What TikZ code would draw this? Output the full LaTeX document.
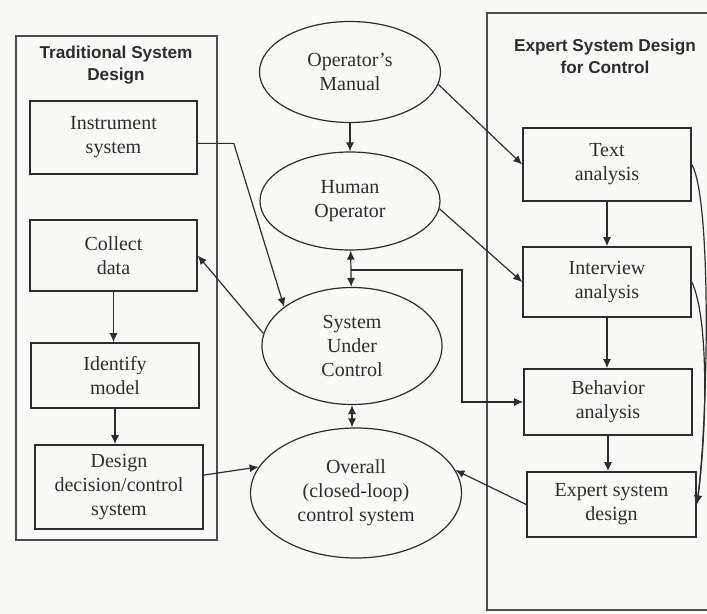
\documentclass[tikz,border=0pt]{standalone}
\usepackage{fontspec}
\setmainfont{Liberation Serif}
\newfontfamily\headfont{Liberation Sans}
\usetikzlibrary{shapes.geometric,arrows.meta}
\definecolor{paper}{RGB}{249,250,247}
\definecolor{ink}{RGB}{45,45,45}
\begin{document}
\begin{tikzpicture}[x=0.5pt,y=-0.5pt,>={Latex[length=4.5pt,width=4pt]},
      every node/.style={align=center,text=ink,font=\fontsize{10}{12}\selectfont},
      box/.style={draw=ink,line width=0.8pt,fill=paper,minimum width=84pt},
      oval/.style={draw=ink,ellipse,inner sep=1pt,line width=0.6pt,fill=paper},
      frame/.style={draw=black!70,line width=0.7pt},
      head/.style={font=\headfont\bfseries\fontsize{8.6}{11}\selectfont},
      link/.style={->,draw=ink,line width=0.6pt}]
      \clip (0,0) rectangle (707,614);
      \fill[paper] (0,0) rectangle (707,614);
      \node[frame,minimum width=100.5pt,minimum height=252pt] (left) at (116.5,288) {};
      \node[frame,minimum width=116.5pt,minimum height=298.5pt] (right) at (603.5,311.5) {};
      \node[head] (ltitle) at (116,65) {Traditional System\\Design};
      \node[head] (rtitle) at (605,56) {Expert System Design\\for Control};
      \node[box,minimum width=83.5pt,minimum height=36.5pt] (instr) at (113.5,137.5) {Instrument\\system};
      \node[box,minimum width=83.5pt,minimum height=35.5pt] (collect) at (113.5,255.5) {Collect\\data};
      \node[box,minimum height=32.5pt] (ident) at (115,375.5) {Identify\\model};
      \node[box,minimum height=42pt] (design) at (119,487) {Design\\decision/control\\system};
      \node[box,minimum height=36.5pt] (text) at (607,164.5) {Text\\analysis};
      \node[box,minimum height=35pt] (interv) at (607,282) {Interview\\analysis};
      \node[box,minimum height=33pt] (behav) at (608,402) {Behavior\\analysis};
      \node[box,minimum width=84.5pt,minimum height=32.5pt] (esd) at (611.5,504.5) {Expert system\\design};
      \node[oval,minimum width=90.5pt,minimum height=50.5pt] (manual) at (350,72) {Operator's\\Manual};
      \node[oval,minimum width=90pt,minimum height=49pt] (human) at (350,201) {Human\\Operator};
      \node[oval,minimum width=90pt,minimum height=58.5pt] (suc) at (352,346) {System\\Under\\Control};
      \node[oval,minimum width=105.5pt,minimum height=65pt] (overall) at (356,493) {Overall\\(closed-loop)\\control system};
      \coordinate (jn) at (351,270);
      \coordinate (jbend) at (462,270);
      \draw[link] (manual) -- (human);
      \draw[link] (manual.-8) -- (text.west);
      \draw[link] (human.-5) -- (interv.west);
      \draw[link,<->] (human) -- (suc);
      \draw[link,<->] (suc.south) -- (suc.south |- overall.north);
      \draw[link] (jn) -- (jbend) |- (behav.west);
      \draw[link] (instr.-4) -- ++(36,0) -- (suc.150);
      \draw[link] (suc.172) -- (collect.east);
      \draw[link] (collect) -- (collect |- ident.north);
      \draw[link] (ident) -- (ident |- design.north);
      \draw[link] (design.8) -- (overall.165);
      \draw[link] (esd.west) -- (overall.13);
      \draw[link] (text) -- (text |- interv.north);
      \draw[link] (interv) -- (interv |- behav.north);
      \draw[link] (behav) -- (behav |- esd.north);
      \draw[link] (text.east) .. controls (712,200) and (708,420) .. (esd.east);
      \draw[link] (interv.east) .. controls (710,320) and (706,440) .. (esd.east);
\end{tikzpicture}
\end{document}
